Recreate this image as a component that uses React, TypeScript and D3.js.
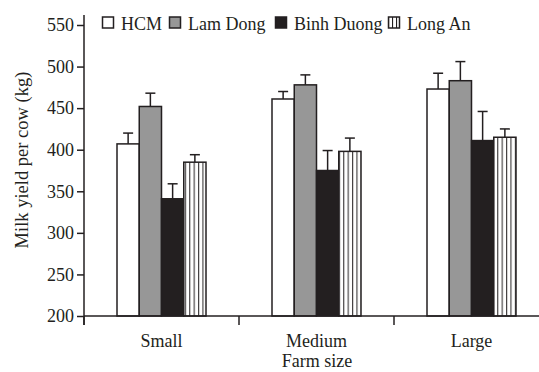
import React, { useEffect, useRef } from 'react';
import * as d3 from 'd3';

const width = 539;
const height = 372;
const margin = { top: 25, right: -10, bottom: 56, left: 84 };

const categories = ['Small', 'Medium', 'Large'];
const series = ['HCM', 'Lam Dong', 'Binh Duong', 'Long An'];
// mean per series, in category order
const hcm = [407, 461, 473];
const lamDong = [452, 478, 483];
const binhDuong = [341, 375, 411];
const longAn = [385, 398, 415];
// upper error (SE)
const hcmErr = [13, 9, 19];
const lamDongErr = [16, 12, 23];
const binhDuongErr = [18, 24, 35];
const longAnErr = [9, 16, 10];
const yTicks = [200, 250, 300, 350, 400, 450, 500, 550];

const values = [hcm, lamDong, binhDuong, longAn];
const errors = [hcmErr, lamDongErr, binhDuongErr, longAnErr];
const fills = ['#ffffff', '#979797', '#231f20', 'url(#stripes)'];

const font = '"Liberation Serif", "Times New Roman", serif';
const ink = '#231f20';
const fs = 18;

export default function App() {
  const yAxisRef = useRef<SVGGElement>(null);

  const x0 = d3.scaleBand().domain(categories).range([margin.left, width - margin.right]);
  const x1 = d3.scaleBand().domain(series).range([33, x0.bandwidth() - 33]);
  const y = d3.scaleLinear().domain([200, 550]).range([height - margin.bottom, margin.top]);

  useEffect(() => {
    const ya = d3.axisLeft(y).tickValues(yTicks).tickSize(7).tickSizeOuter(0);
    const gy = d3.select(yAxisRef.current!).call(ya);
    gy.select('.domain').remove();
    gy.selectAll('line').attr('stroke', ink).attr('stroke-width', 1.5);
    gy.selectAll('text').attr('font-family', font).attr('font-size', fs).attr('fill', ink).attr('dx', 0);
  }, []);

  const base = y(200);
  const bars: { key: string; x: number; y: number; w: number; h: number; fill: string; err: number }[] = [];
  categories.forEach((c, ci) => {
    series.forEach((s, si) => {
      const v = values[si][ci];
      bars.push({
        key: c + s,
        x: x0(c)! + x1(s)!,
        y: y(v),
        w: x1.bandwidth(),
        h: base - y(v),
        fill: fills[si],
        err: y(v + errors[si][ci]),
      });
    });
  });

  const boundaries = [...categories.map(c => x0(c)!), x0(categories[2])! + x0.bandwidth()];

  const legendX = [102, 169, 275, 388];

  return (
    <svg width={width} height={height} style={{ position: 'absolute', left: 0, top: 0, background: '#fff' }}>
      <defs>
        <pattern id="stripes" patternUnits="userSpaceOnUse" width={4.4} height={10}>
          <rect width={4.4} height={10} fill="#fff" />
          <line x1={0.6} x2={0.6} y1={0} y2={10} stroke={ink} strokeWidth={1} />
        </pattern>
        <pattern id="stripesLegend" patternUnits="userSpaceOnUse" width={4} height={10}>
          <rect width={4} height={10} fill="#fff" />
          <line x1={0.5} x2={0.5} y1={0} y2={10} stroke={ink} strokeWidth={1.2} />
        </pattern>
      </defs>
      {bars.map(b => (
        <g key={b.key}>
          <line x1={b.x + b.w / 2} x2={b.x + b.w / 2} y1={b.y} y2={b.err} stroke={ink} strokeWidth={1.5} />
          <line x1={b.x + b.w / 2 - 5} x2={b.x + b.w / 2 + 5} y1={b.err} y2={b.err} stroke={ink} strokeWidth={1.5} />
          <rect x={b.x} y={b.y} width={b.w} height={b.h} fill={b.fill} stroke={ink} strokeWidth={1.5} />
        </g>
      ))}
      <g ref={yAxisRef} transform={`translate(${margin.left},0)`} />
      <line x1={margin.left} x2={margin.left} y1={15} y2={base + 9} stroke={ink} strokeWidth={1.5} />
      <line x1={margin.left} x2={width} y1={base} y2={base} stroke={ink} strokeWidth={1.5} />
      {boundaries.map((bx, i) => (
        <line key={i} x1={bx} x2={bx} y1={base} y2={base + 9} stroke={ink} strokeWidth={1.5} />
      ))}
      {categories.map(c => (
        <text key={c} x={x0(c)! + x0.bandwidth() / 2} y={347} textAnchor="middle" fontFamily={font} fontSize={fs} fill={ink}>
          {c}
        </text>
      ))}
      <text x={317} y={367} textAnchor="middle" fontFamily={font} fontSize={fs} fill={ink}>Farm size</text>
      <text transform="translate(28,160) rotate(-90)" textAnchor="middle" fontFamily={font} fontSize={18.5} fill={ink}>
        Milk yield per cow (kg)
      </text>
      {series.map((s, i) => (
        <g key={s} transform={`translate(${legendX[i]},17)`}>
          <rect x={0.5} y={0} width={11} height={11} fill={i === 3 ? 'url(#stripesLegend)' : fills[i]} stroke={ink} strokeWidth={1.5} />
          <text x={19} y={12.5} fontFamily={font} fontSize={fs} fill={ink}>{s}</text>
        </g>
      ))}
    </svg>
  );
}
